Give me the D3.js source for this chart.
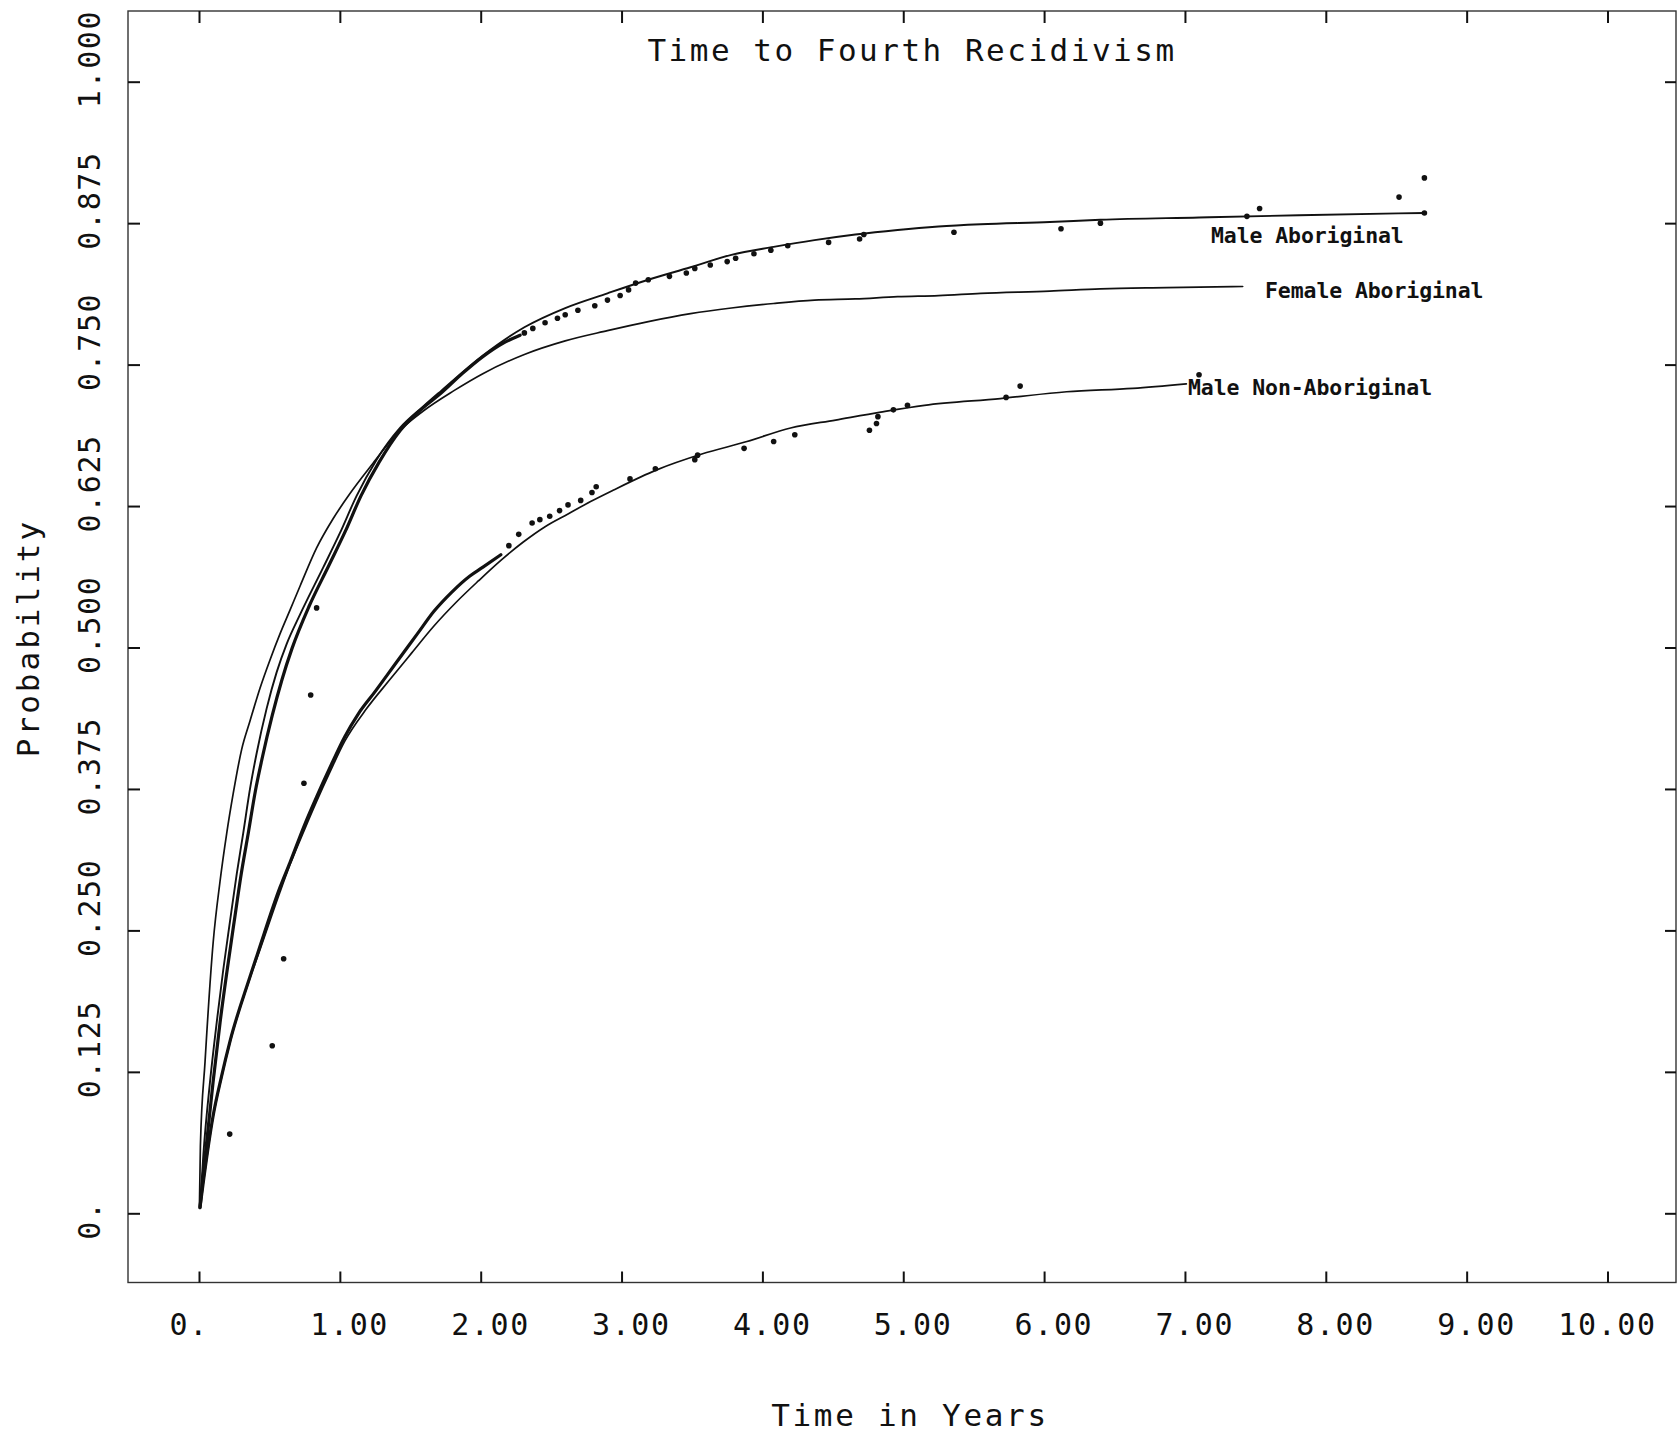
<!DOCTYPE html>
<html><head><meta charset="utf-8">
<script src="https://cdn.jsdelivr.net/npm/d3@7"></script>
<style>body{margin:0;background:#fff}svg{display:block}</style>
</head><body>
<svg id="c" width="1679" height="1434"></svg>
<script>
// ---- data (years, probability) ----
const xTicks = [0,1,2,3,4,5,6,7,8,9,10];
const xTickLabels = ["0.","1.00","2.00","3.00","4.00","5.00","6.00","7.00","8.00","9.00","10.00"];
const yTicks = [0,0.125,0.25,0.375,0.5,0.625,0.75,0.875,1.0];
const yTickLabels = ["0.","0.125","0.250","0.375","0.500","0.625","0.750","0.875","1.000"];

const titleText = "Time to Fourth Recidivism";
const xTitle = "Time in Years";
const yTitle = "Probability";
const seriesNames = ["Male Aboriginal","Female Aboriginal","Male Non-Aboriginal"];

const maleAbFit = [[0.007,0.005],[0.031,0.052],[0.078,0.116],[0.126,0.169],[0.172,0.215],[0.220,0.258],[0.268,0.300],[0.314,0.336],[0.362,0.375],[0.410,0.407],[0.480,0.446],[0.551,0.478],[0.622,0.503],[0.717,0.529],[0.883,0.571],[1.0,0.601],[1.119,0.634],[1.261,0.666],[1.427,0.694],[1.592,0.713],[1.721,0.727],[2.015,0.758],[2.31,0.783],[2.60,0.800],[2.90,0.813],[3.19,0.825],[3.49,0.836],[3.78,0.847],[4.08,0.854],[4.37,0.860],[4.66,0.865],[4.96,0.869],[5.25,0.872],[5.55,0.874],[6.04,0.876],[6.40,0.878],[7.10,0.880],[7.81,0.882],[8.70,0.884]];
const maleAbEmpLine = [[0.007,0.005],[0.045,0.052],[0.10,0.116],[0.15,0.169],[0.20,0.215],[0.25,0.258],[0.30,0.300],[0.35,0.336],[0.40,0.373],[0.45,0.403],[0.52,0.440],[0.59,0.472],[0.66,0.499],[0.78,0.536],[0.92,0.572],[1.04,0.603],[1.15,0.634],[1.28,0.664],[1.43,0.692],[1.574,0.710],[1.721,0.725],[1.869,0.742],[2.015,0.757],[2.16,0.769],[2.28,0.776]];
const maleAbEmpDots = [[2.31,0.778],[2.37,0.782],[2.457,0.787],[2.545,0.791],[2.60,0.794],[2.69,0.798],[2.81,0.802],[2.90,0.807],[2.99,0.811],[3.05,0.816],[3.10,0.822],[3.19,0.825],[3.34,0.828],[3.46,0.831],[3.52,0.835],[3.63,0.838],[3.75,0.841],[3.81,0.844],[3.94,0.848],[4.06,0.851],[4.18,0.855],[4.47,0.858],[4.69,0.861],[4.72,0.865],[5.36,0.867],[6.12,0.870],[6.40,0.875],[7.44,0.881],[7.53,0.888],[8.52,0.898],[8.70,0.915],[8.70,0.884]];

const femAbFit = [[0.003,0.006],[0.010,0.060],[0.043,0.134],[0.101,0.240],[0.149,0.293],[0.197,0.336],[0.243,0.371],[0.303,0.410],[0.362,0.435],[0.433,0.464],[0.504,0.489],[0.575,0.512],[0.646,0.533],[0.72,0.555],[0.835,0.588],[0.953,0.614],[1.072,0.636],[1.237,0.663],[1.403,0.689],[1.592,0.709],[1.81,0.727],[2.015,0.742],[2.31,0.759],[2.60,0.771],[2.90,0.780],[3.19,0.788],[3.49,0.795],[3.78,0.800],[4.08,0.804],[4.37,0.807],[4.66,0.808],[4.96,0.810],[5.25,0.811],[5.55,0.813],[6.04,0.815],[6.40,0.817],[6.87,0.818],[7.41,0.819]];
const femAbEmpDots = [[0.218,0.070],[0.520,0.148],[0.601,0.225],[0.745,0.380],[0.793,0.458],[0.835,0.535]];

const nonAbFit = [[0.007,0.005],[0.031,0.027],[0.10,0.085],[0.16,0.120],[0.220,0.151],[0.362,0.208],[0.433,0.233],[0.575,0.284],[0.646,0.308],[0.752,0.340],[0.835,0.364],[0.930,0.390],[1.034,0.417],[1.19,0.446],[1.351,0.471],[1.509,0.495],[1.668,0.519],[1.826,0.540],[1.985,0.559],[2.143,0.577],[2.30,0.593],[2.46,0.607],[2.62,0.618],[2.78,0.629],[2.94,0.639],[3.25,0.657],[3.57,0.671],[3.89,0.682],[4.20,0.694],[4.52,0.701],[4.84,0.708],[5.15,0.714],[5.69,0.720],[6.16,0.726],[6.63,0.729],[7.01,0.733]];
const nonAbEmpLine = [[0.007,0.005],[0.031,0.028],[0.10,0.086],[0.16,0.121],[0.220,0.152],[0.362,0.209],[0.433,0.236],[0.575,0.288],[0.646,0.310],[0.752,0.344],[0.835,0.368],[0.930,0.394],[1.034,0.421],[1.129,0.441],[1.25,0.461],[1.414,0.489],[1.55,0.512],[1.668,0.532],[1.795,0.549],[1.921,0.563],[2.016,0.571],[2.143,0.582]];
const nonAbEmpDots = [[2.20,0.590],[2.27,0.600],[2.365,0.610],[2.42,0.613],[2.49,0.616],[2.56,0.621],[2.62,0.626],[2.71,0.630],[2.79,0.637],[2.82,0.642],[3.06,0.649],[3.24,0.658],[3.52,0.666],[3.54,0.670],[3.87,0.676],[4.08,0.682],[4.23,0.688],[4.76,0.692],[4.81,0.698],[4.82,0.704],[4.93,0.710],[5.03,0.714],[5.73,0.721],[5.83,0.731],[7.10,0.741]];

// ---- layout ----
const svg = d3.select("#c");
const frame = {l:128, t:11, r:1676, b:1282.5};
const x = d3.scaleLinear().domain([0,10]).range([199,1607.5]);
const y = d3.scaleLinear().domain([0,1]).range([1213.3,81.7]);
const ink = "#111";
const mono = "'DejaVu Sans Mono', monospace";

svg.append("rect").attr("x",frame.l).attr("y",frame.t)
  .attr("width",frame.r-frame.l).attr("height",frame.b-frame.t)
  .attr("fill","none").attr("stroke","#333").attr("stroke-width",1.4);

// ticks via axes (inward)
function tickAxis(axis, tx, ty){
  const g = svg.append("g").attr("transform",`translate(${tx},${ty})`).call(axis);
  g.select(".domain").remove();
  g.selectAll(".tick line").attr("stroke",ink).attr("stroke-width",2);
  g.selectAll(".tick text").remove();
}
tickAxis(d3.axisBottom(x).tickValues(xTicks).tickSize(-11), 0, frame.b);
tickAxis(d3.axisTop(x).tickValues(xTicks).tickSize(-12), 0, frame.t);
tickAxis(d3.axisLeft(y).tickValues(yTicks).tickSize(-12), frame.l, 0);
tickAxis(d3.axisRight(y).tickValues(yTicks).tickSize(-11), frame.r, 0);

// tick labels aligned on the decimal point
const fsT = 30, lsT = 1.6, adv = fsT*0.602 + lsT;
svg.append("g").selectAll("text").data(xTicks).join("text")
  .attr("x",(d,i)=> x(d) - (xTickLabels[i].indexOf(".")+0.5)*adv)
  .attr("y",1335)
  .attr("font-family",mono).attr("font-size",fsT).attr("letter-spacing",lsT)
  .attr("fill",ink).text((d,i)=>xTickLabels[i]);
svg.append("g").selectAll("text").data(yTicks).join("text")
  .attr("transform",d=>`translate(100,${y(d)}) rotate(-90)`)
  .attr("x",(d,i)=> -(yTickLabels[i].indexOf(".")+0.5)*adv + 3)
  .attr("y",0)
  .attr("font-family",mono).attr("font-size",fsT).attr("letter-spacing",lsT)
  .attr("fill",ink).text((d,i)=>yTickLabels[i]);

// titles
svg.append("text").attr("x",912).attr("y",61).attr("text-anchor","middle")
  .attr("font-family",mono).attr("font-size",31).attr("letter-spacing",2.5)
  .attr("fill",ink).text(titleText);
svg.append("text").attr("x",910).attr("y",1426).attr("text-anchor","middle")
  .attr("font-family",mono).attr("font-size",31).attr("letter-spacing",2.7)
  .attr("fill",ink).text(xTitle);
svg.append("text").attr("transform","translate(39,638) rotate(-90)").attr("text-anchor","middle")
  .attr("font-family",mono).attr("font-size",31).attr("letter-spacing",3)
  .attr("fill",ink).text(yTitle);

// curves
const line = d3.line().x(d=>x(d[0])).y(d=>y(d[1])).curve(d3.curveMonotoneX);
const curves = [
  [femAbFit, 1.7],
  [maleAbFit, 1.9],
  [nonAbFit, 1.7],
  [maleAbEmpLine, 3.2],
  [nonAbEmpLine, 3.2]
];
curves.forEach(([data,w])=>{
  svg.append("path").attr("d",line(data)).attr("fill","none")
    .attr("stroke",ink).attr("stroke-width",w).attr("stroke-linecap","round").attr("stroke-linejoin","round");
});
[maleAbEmpDots, femAbEmpDots, nonAbEmpDots].forEach(data=>{
  svg.append("g").selectAll("circle").data(data).join("circle")
    .attr("cx",d=>x(d[0])).attr("cy",d=>y(d[1])).attr("r",2.8).attr("fill",ink);
});

// series labels
const lab = [[seriesNames[0],1211,242.7],[seriesNames[1],1265,298],[seriesNames[2],1188,395]];
svg.append("g").selectAll("text").data(lab).join("text")
  .attr("x",d=>d[1]).attr("y",d=>d[2])
  .attr("font-family",mono).attr("font-weight","bold").attr("font-size",21.5).attr("letter-spacing",-0.1)
  .attr("fill",ink).text(d=>d[0]);
</script>
</body></html>
